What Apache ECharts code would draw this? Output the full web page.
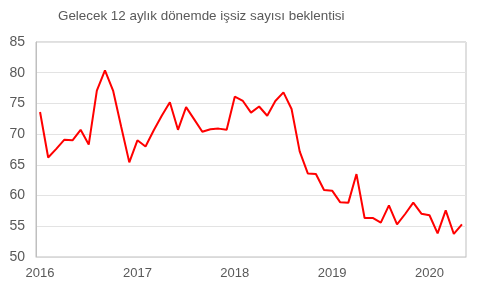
<!DOCTYPE html>
<html><head><meta charset="utf-8">
<script src="https://cdn.jsdelivr.net/npm/echarts@6/dist/echarts.min.js"></script>
<style>html,body{margin:0;padding:0;background:#fff}#c{width:481px;height:289px}</style>
</head><body><div id="c"></div>
<script>
const titleText = "Gelecek 12 aylık dönemde işsiz sayısı beklentisi";
const months = [];
for (let y = 2016; y <= 2020; y++) for (let m = 1; m <= 12; m++) { if (y === 2020 && m > 5) break; months.push(y + "-" + String(m).padStart(2, "0")); }
const values = [
  73.6, 66.2, 67.6, 69.1, 69.0, 70.7, 68.3, 77.1, 80.4, 77.1, 71.2, 65.4,
  69.0, 68.0, 70.6, 73.0, 75.2, 70.7, 74.4, 72.4, 70.4, 70.8, 70.9, 70.7,
  76.1, 75.4, 73.5, 74.5, 73.0, 75.4, 76.8, 74.1, 67.2, 63.6, 63.5, 60.9,
  60.8, 58.9, 58.85, 63.5, 56.35, 56.35, 55.6, 58.4, 55.3, 57.0, 58.85, 57.05,
  56.8, 53.85, 57.6, 53.75, 55.3
];
const yTicks = { min: 50, max: 85, interval: 5 };
const chart = echarts.init(document.getElementById('c'), null, { renderer: 'canvas' });
chart.setOption({
  animation: false,
  title: { text: titleText, left: 58, top: 10, padding: 0, textStyle: { fontFamily: 'Liberation Sans, Arial', fontSize: 13.4, fontWeight: 'normal', color: '#595959' } },
  grid: { left: 36, right: 15, top: 42, bottom: 32, show: true, borderColor: '#bfbfbf', borderWidth: 1 },
  xAxis: {
    type: 'category', data: months, boundaryGap: true,
    axisLine: { show: true, lineStyle: { color: '#d9d9d9' } },
    axisTick: { show: false },
    axisLabel: {
      interval: 0, margin: 10, fontFamily: 'Liberation Sans, Arial', fontSize: 13, color: '#595959',
      formatter: function (v) { return v.endsWith('-01') ? v.slice(0, 4) : ''; }
    },
    splitLine: { show: false }
  },
  yAxis: {
    type: 'value', min: yTicks.min, max: yTicks.max, interval: yTicks.interval,
    axisLine: { show: true, lineStyle: { color: '#bfbfbf' } },
    axisTick: { show: false },
    axisLabel: { margin: 11, fontFamily: 'Liberation Sans, Arial', fontSize: 14, color: '#595959' },
    splitLine: { show: true, lineStyle: { color: '#e3e3e3', width: 1 } }
  },
  series: [{
    type: 'line', data: values, symbol: 'none',
    lineStyle: { color: '#ff0000', width: 2 }
  }]
});
</script></body></html>
